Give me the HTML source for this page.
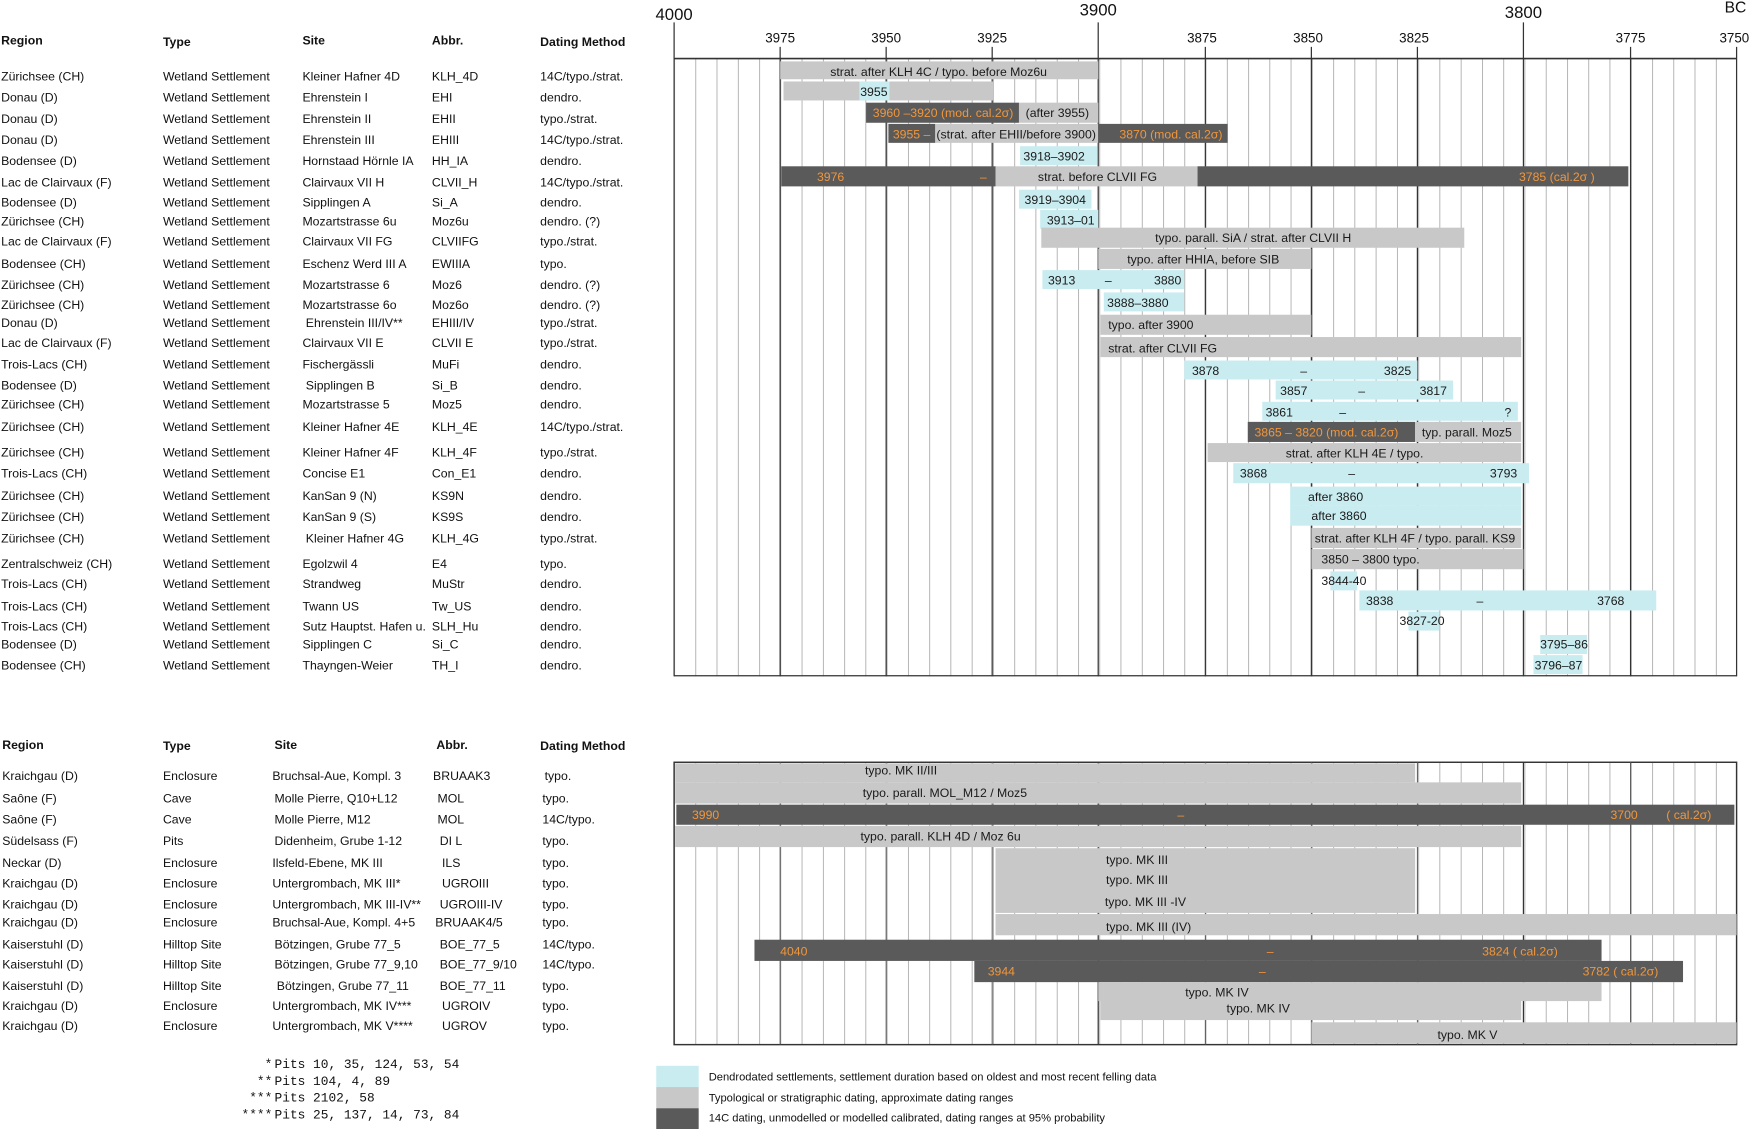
<!DOCTYPE html>
<html><head><meta charset="utf-8"><style>
html,body{margin:0;padding:0;background:#fff}
svg{display:block}
text{font-family:"Liberation Sans",sans-serif;font-size:11px;fill:#111}
.h{font-weight:bold}
.b{font-size:11px;fill:#1a1a1a}
.o{fill:#f0963c;font-size:11px}
.m{font-family:"Liberation Mono",monospace;font-size:11.5px}
</style></head><body>
<svg width="1750" height="1129" viewBox="0 0 1568 1011.6" xmlns="http://www.w3.org/2000/svg">
<defs>
<pattern id="g" x="604" y="0" width="19.05" height="10" patternUnits="userSpaceOnUse">
<line x1="0.3" y1="0" x2="0.3" y2="10" stroke="#9a9a9a" stroke-width="0.7"/>
</pattern>
</defs>
<!-- top chart grid -->
<rect x="604" y="52" width="952" height="554" fill="url(#g)"/>
<rect x="604" y="683" width="952" height="253" fill="url(#g)"/>
<g stroke="#333" stroke-width="1.1">
<line x1="699" y1="42" x2="699" y2="606"/><line x1="794" y1="42" x2="794" y2="606"/><line x1="889" y1="42" x2="889" y2="606"/>
<line x1="984" y1="20" x2="984" y2="606"/><line x1="1080" y1="42" x2="1080" y2="606"/><line x1="1175" y1="42" x2="1175" y2="606"/>
<line x1="1270" y1="42" x2="1270" y2="606"/><line x1="1365" y1="20" x2="1365" y2="606"/><line x1="1461" y1="42" x2="1461" y2="606"/>
<line x1="604" y1="20" x2="604" y2="606"/><line x1="1556" y1="42" x2="1556" y2="606"/>
<line x1="604" y1="52.5" x2="1556" y2="52.5" stroke-width="1.4"/>
<line x1="604" y1="605.5" x2="1556" y2="605.5"/>
<line x1="984" y1="683" x2="984" y2="936"/><line x1="1365" y1="683" x2="1365" y2="936"/>
<rect x="604" y="683" width="952" height="253" fill="none" stroke-width="1.3"/>
</g>
<g stroke="#555" stroke-width="0.9">
<line x1="699" y1="683" x2="699" y2="936"/><line x1="794" y1="683" x2="794" y2="936"/><line x1="889" y1="683" x2="889" y2="936"/>
<line x1="1080" y1="683" x2="1080" y2="936"/><line x1="1175" y1="683" x2="1175" y2="936"/><line x1="1270" y1="683" x2="1270" y2="936"/><line x1="1461" y1="683" x2="1461" y2="936"/>
</g>
<!-- axis labels -->
<text x="604" y="18" text-anchor="middle" style="font-size:15px">4000</text>
<text x="984" y="14" text-anchor="middle" style="font-size:15px">3900</text>
<text x="1365" y="16" text-anchor="middle" style="font-size:15px">3800</text>
<text x="1555" y="11" text-anchor="middle" style="font-size:14px">BC</text>
<g text-anchor="middle" style="font-size:12px">
<text x="699" y="38" style="font-size:12px">3975</text><text x="794" y="38" style="font-size:12px">3950</text><text x="889" y="38" style="font-size:12px">3925</text>
<text x="1077" y="38" style="font-size:12px">3875</text><text x="1172" y="38" style="font-size:12px">3850</text><text x="1267" y="38" style="font-size:12px">3825</text>
<text x="1461" y="38" style="font-size:12px">3775</text><text x="1554" y="38" style="font-size:12px">3750</text>
</g>
<!-- top bars -->
<g>
<rect x="699" y="55" width="285" height="16" fill="#c8c8c8"/><text x="841" y="68" text-anchor="middle" class="b">strat. after KLH 4C / typo. before Moz6u</text>
<rect x="702" y="73" width="188" height="17" fill="#c8c8c8"/><rect x="770" y="73" width="27" height="17" fill="#c9ecf0"/><text x="783" y="86" text-anchor="middle" class="b">3955</text>
<rect x="776" y="92" width="137" height="18" fill="#5a5a5a"/><text x="782" y="105" class="o">3960 –3920 (mod. cal.2σ)</text>
<rect x="913" y="92" width="71" height="18" fill="#c8c8c8"/><text x="919" y="105" class="b">(after 3955)</text>
<rect x="796" y="111" width="42" height="17" fill="#5a5a5a"/><text x="800" y="124" class="o">3955 –</text>
<rect x="838" y="111" width="146" height="17" fill="#c8c8c8"/><text x="839" y="124" class="b">(strat. after EHII/before 3900)</text>
<rect x="984" y="111" width="116" height="17" fill="#5a5a5a"/><text x="1003" y="124" class="o">3870 (mod. cal.2σ)</text>
<rect x="914" y="131" width="69" height="17" fill="#c9ecf0"/><text x="917" y="144" class="b">3918–3902</text>
<rect x="700" y="149" width="192" height="18" fill="#5a5a5a"/><text x="732" y="162" class="o">3976</text><text x="878" y="162" class="o">–</text>
<rect x="892" y="149" width="181" height="18" fill="#c8c8c8"/><text x="930" y="162" class="b">strat. before CLVII FG</text>
<rect x="1073" y="149" width="386" height="18" fill="#5a5a5a"/><text x="1361" y="162" class="o">3785 (cal.2σ )</text>
<rect x="913" y="170" width="65" height="17" fill="#c9ecf0"/><text x="918" y="183" class="b">3919–3904</text>
<rect x="932" y="188" width="52" height="17" fill="#c9ecf0"/><text x="938" y="201" class="b">3913–01</text>
<rect x="933" y="204" width="379" height="18" fill="#c8c8c8"/><text x="1035" y="217" class="b">typo. parall. SiA / strat. after CLVII H</text>
<rect x="984" y="223" width="191" height="18" fill="#c8c8c8"/><text x="1010" y="236" class="b">typo. after HHIA, before SIB</text>
<rect x="934" y="242" width="127" height="17" fill="#c9ecf0"/><text x="939" y="255" class="b">3913</text><text x="990" y="255" class="b">–</text><text x="1034" y="255" class="b">3880</text>
<rect x="989" y="262" width="72" height="17" fill="#c9ecf0"/><text x="992" y="275" class="b">3888–3880</text>
<rect x="986" y="282" width="189" height="18" fill="#c8c8c8"/><text x="993" y="295" class="b">typo. after 3900</text>
<rect x="986" y="302" width="377" height="18" fill="#c8c8c8"/><text x="993" y="316" class="b">strat. after CLVII FG</text>
<rect x="1061" y="323" width="209" height="17" fill="#c9ecf0"/><text x="1068" y="336" class="b">3878</text><text x="1165" y="336" class="b">–</text><text x="1240" y="336" class="b">3825</text>
<rect x="1143" y="341" width="159" height="17" fill="#c9ecf0"/><text x="1147" y="354" class="b">3857</text><text x="1217" y="354" class="b">–</text><text x="1272" y="354" class="b">3817</text>
<rect x="1131" y="360" width="229" height="17" fill="#c9ecf0"/><text x="1134" y="373" class="b">3861</text><text x="1200" y="373" class="b">–</text><text x="1348" y="373" class="b">?</text>
<rect x="1118" y="378" width="150" height="18" fill="#5a5a5a"/><text x="1124" y="391" class="o">3865 – 3820 (mod. cal.2σ)</text>
<rect x="1268" y="378" width="95" height="18" fill="#c8c8c8"/><text x="1274" y="391" class="b">typ. parall. Moz5</text>
<rect x="1082" y="397" width="281" height="17" fill="#c8c8c8"/><text x="1152" y="410" class="b">strat. after KLH 4E / typo.</text>
<rect x="1105" y="415" width="265" height="18" fill="#c9ecf0"/><text x="1111" y="428" class="b">3868</text><text x="1208" y="428" class="b">–</text><text x="1335" y="428" class="b">3793</text>
<rect x="1156" y="436" width="207" height="17" fill="#c9ecf0"/><text x="1172" y="449" class="b">after 3860</text>
<rect x="1156" y="453" width="207" height="18" fill="#c9ecf0"/><text x="1175" y="466" class="b">after 3860</text>
<rect x="1175" y="473" width="188" height="18" fill="#c8c8c8"/><text x="1178" y="486" class="b">strat. after KLH 4F / typo. parall. KS9</text>
<rect x="1175" y="492" width="190" height="18" fill="#c8c8c8"/><text x="1184" y="505" class="b">3850  – 3800 typo.</text>
<rect x="1192" y="512" width="24" height="17" fill="#c9ecf0"/><text x="1184" y="524" class="b">3844-40</text>
<rect x="1218" y="529" width="266" height="18" fill="#c9ecf0"/><text x="1224" y="542" class="b">3838</text><text x="1323" y="542" class="b">–</text><text x="1431" y="542" class="b">3768</text>
<rect x="1262" y="548" width="28" height="17" fill="#c9ecf0"/><text x="1254" y="560" class="b">3827-20</text>
<rect x="1380" y="569" width="42" height="17" fill="#c9ecf0"/><text x="1380" y="581" class="b">3795–86</text>
<rect x="1374" y="587" width="44" height="17" fill="#c9ecf0"/><text x="1375" y="600" class="b">3796–87</text>
</g>
<!-- bottom bars -->
<g>
<rect x="605" y="684" width="663" height="17" fill="#c8c8c8"/><text x="775" y="694" class="b">typo. MK II/III</text>
<rect x="605" y="701" width="758" height="19" fill="#c8c8c8"/><text x="773" y="714" class="b">typo. parall. MOL_M12 / Moz5</text>
<rect x="606" y="721" width="948" height="18" fill="#5a5a5a"/><text x="620" y="734" class="o">3990</text><text x="1055" y="734" class="o">–</text><text x="1443" y="734" class="o">3700</text><text x="1493" y="734" class="o">( cal.2σ)</text>
<rect x="605" y="740" width="758" height="19" fill="#c8c8c8"/><text x="771" y="753" class="b">typo. parall. KLH 4D / Moz 6u</text>
<rect x="892" y="760" width="376" height="58" fill="#c8c8c8"/>
<rect x="892" y="819" width="664" height="19" fill="#c8c8c8"/>
<text x="991" y="774" class="b">typo. MK III</text><text x="991" y="792" class="b">typo. MK III</text>
<text x="990" y="812" class="b">typo. MK III -IV</text><text x="991" y="834" class="b">typo. MK III (IV)</text>
<rect x="676" y="842" width="759" height="19" fill="#5a5a5a"/><text x="699" y="856" class="o">4040</text><text x="1135" y="856" class="o">–</text><text x="1328" y="856" class="o">3824 ( cal.2σ)</text>
<rect x="873" y="861" width="635" height="19" fill="#5a5a5a"/><text x="885" y="874" class="o">3944</text><text x="1128" y="874" class="o">–</text><text x="1418" y="874" class="o">3782  ( cal.2σ)</text>
<rect x="984" y="880" width="451" height="17" fill="#c8c8c8"/><text x="1062" y="893" class="b">typo. MK IV</text>
<rect x="986" y="895" width="377" height="19" fill="#c8c8c8"/><text x="1099" y="907" class="b">typo. MK IV</text>
<rect x="1175" y="916" width="381" height="19" fill="#c8c8c8"/><text x="1288" y="931" class="b">typo. MK V</text>
</g>
<!-- top table -->
<g>
<text x="1" y="40" class="h">Region</text><text x="146" y="41" class="h">Type</text><text x="271" y="40" class="h">Site</text><text x="387" y="40" class="h">Abbr.</text><text x="484" y="41" class="h">Dating Method</text>
</g>
<g id="tt">
<text x="1" y="72">Zürichsee (CH)</text><text x="146" y="72">Wetland Settlement</text><text x="271" y="72">Kleiner Hafner 4D</text><text x="387" y="72">KLH_4D</text><text x="484" y="72">14C/typo./strat.</text>
<text x="1" y="91">Donau (D)</text><text x="146" y="91">Wetland Settlement</text><text x="271" y="91">Ehrenstein I</text><text x="387" y="91">EHI</text><text x="484" y="91">dendro.</text>
<text x="1" y="110">Donau (D)</text><text x="146" y="110">Wetland Settlement</text><text x="271" y="110">Ehrenstein II</text><text x="387" y="110">EHII</text><text x="484" y="110">typo./strat.</text>
<text x="1" y="129">Donau (D)</text><text x="146" y="129">Wetland Settlement</text><text x="271" y="129">Ehrenstein III</text><text x="387" y="129">EHIII</text><text x="484" y="129">14C/typo./strat.</text>
<text x="1" y="148">Bodensee (D)</text><text x="146" y="148">Wetland Settlement</text><text x="271" y="148">Hornstaad Hörnle IA</text><text x="387" y="148">HH_IA</text><text x="484" y="148">dendro.</text>
<text x="1" y="167">Lac de Clairvaux (F)</text><text x="146" y="167">Wetland Settlement</text><text x="271" y="167">Clairvaux VII H</text><text x="387" y="167">CLVII_H</text><text x="484" y="167">14C/typo./strat.</text>
<text x="1" y="185">Bodensee (D)</text><text x="146" y="185">Wetland Settlement</text><text x="271" y="185">Sipplingen A</text><text x="387" y="185">Si_A</text><text x="484" y="185">dendro.</text>
<text x="1" y="202">Zürichsee (CH)</text><text x="146" y="202">Wetland Settlement</text><text x="271" y="202">Mozartstrasse 6u</text><text x="387" y="202">Moz6u</text><text x="484" y="202">dendro. (?)</text>
<text x="1" y="220">Lac de Clairvaux (F)</text><text x="146" y="220">Wetland Settlement</text><text x="271" y="220">Clairvaux VII FG</text><text x="387" y="220">CLVIIFG</text><text x="484" y="220">typo./strat.</text>
<text x="1" y="240">Bodensee (CH)</text><text x="146" y="240">Wetland Settlement</text><text x="271" y="240">Eschenz Werd III A</text><text x="387" y="240">EWIIIA</text><text x="484" y="240">typo.</text>
<text x="1" y="259">Zürichsee (CH)</text><text x="146" y="259">Wetland Settlement</text><text x="271" y="259">Mozartstrasse 6</text><text x="387" y="259">Moz6</text><text x="484" y="259">dendro. (?)</text>
<text x="1" y="277">Zürichsee (CH)</text><text x="146" y="277">Wetland Settlement</text><text x="271" y="277">Mozartstrasse 6o</text><text x="387" y="277">Moz6o</text><text x="484" y="277">dendro. (?)</text>
<text x="1" y="293">Donau (D)</text><text x="146" y="293">Wetland Settlement</text><text x="274" y="293">Ehrenstein III/IV**</text><text x="387" y="293">EHIII/IV</text><text x="484" y="293">typo./strat.</text>
<text x="1" y="311">Lac de Clairvaux (F)</text><text x="146" y="311">Wetland Settlement</text><text x="271" y="311">Clairvaux VII E</text><text x="387" y="311">CLVII E</text><text x="484" y="311">typo./strat.</text>
<text x="1" y="330">Trois-Lacs (CH)</text><text x="146" y="330">Wetland Settlement</text><text x="271" y="330">Fischergässli</text><text x="387" y="330">MuFi</text><text x="484" y="330">dendro.</text>
<text x="1" y="349">Bodensee (D)</text><text x="146" y="349">Wetland Settlement</text><text x="274" y="349">Sipplingen B</text><text x="387" y="349">Si_B</text><text x="484" y="349">dendro.</text>
<text x="1" y="366">Zürichsee (CH)</text><text x="146" y="366">Wetland Settlement</text><text x="271" y="366">Mozartstrasse 5</text><text x="387" y="366">Moz5</text><text x="484" y="366">dendro.</text>
<text x="1" y="386">Zürichsee (CH)</text><text x="146" y="386">Wetland Settlement</text><text x="271" y="386">Kleiner Hafner 4E</text><text x="387" y="386">KLH_4E</text><text x="484" y="386">14C/typo./strat.</text>
<text x="1" y="409">Zürichsee (CH)</text><text x="146" y="409">Wetland Settlement</text><text x="271" y="409">Kleiner Hafner 4F</text><text x="387" y="409">KLH_4F</text><text x="484" y="409">typo./strat.</text>
<text x="1" y="428">Trois-Lacs (CH)</text><text x="146" y="428">Wetland Settlement</text><text x="271" y="428">Concise E1</text><text x="387" y="428">Con_E1</text><text x="484" y="428">dendro.</text>
<text x="1" y="448">Zürichsee (CH)</text><text x="146" y="448">Wetland Settlement</text><text x="271" y="448">KanSan 9 (N)</text><text x="387" y="448">KS9N</text><text x="484" y="448">dendro.</text>
<text x="1" y="467">Zürichsee (CH)</text><text x="146" y="467">Wetland Settlement</text><text x="271" y="467">KanSan 9 (S)</text><text x="387" y="467">KS9S</text><text x="484" y="467">dendro.</text>
<text x="1" y="486">Zürichsee (CH)</text><text x="146" y="486">Wetland Settlement</text><text x="274" y="486">Kleiner Hafner 4G</text><text x="387" y="486">KLH_4G</text><text x="484" y="486">typo./strat.</text>
<text x="1" y="509">Zentralschweiz (CH)</text><text x="146" y="509">Wetland Settlement</text><text x="271" y="509">Egolzwil 4</text><text x="387" y="509">E4</text><text x="484" y="509">typo.</text>
<text x="1" y="527">Trois-Lacs (CH)</text><text x="146" y="527">Wetland Settlement</text><text x="271" y="527">Strandweg</text><text x="387" y="527">MuStr</text><text x="484" y="527">dendro.</text>
<text x="1" y="547">Trois-Lacs (CH)</text><text x="146" y="547">Wetland Settlement</text><text x="271" y="547">Twann US</text><text x="387" y="547">Tw_US</text><text x="484" y="547">dendro.</text>
<text x="1" y="565">Trois-Lacs (CH)</text><text x="146" y="565">Wetland Settlement</text><text x="271" y="565">Sutz Hauptst. Hafen u.</text><text x="387" y="565">SLH_Hu</text><text x="484" y="565">dendro.</text>
<text x="1" y="581">Bodensee (D)</text><text x="146" y="581">Wetland Settlement</text><text x="271" y="581">Sipplingen C</text><text x="387" y="581">Si_C</text><text x="484" y="581">dendro.</text>
<text x="1" y="600">Bodensee  (CH)</text><text x="146" y="600">Wetland Settlement</text><text x="271" y="600">Thayngen-Weier</text><text x="387" y="600">TH_I</text><text x="484" y="600">dendro.</text>
</g>
<!-- bottom table -->
<g>
<text x="2" y="671" class="h">Region</text><text x="146" y="672" class="h">Type</text><text x="246" y="671" class="h">Site</text><text x="391" y="671" class="h">Abbr.</text><text x="484" y="672" class="h">Dating Method</text>
<text x="2" y="699">Kraichgau (D)</text><text x="146" y="699">Enclosure</text><text x="244" y="699">Bruchsal-Aue, Kompl. 3</text><text x="388" y="699">BRUAAK3</text><text x="488" y="699">typo.</text>
<text x="2" y="719">Saône (F)</text><text x="146" y="719">Cave</text><text x="246" y="719">Molle Pierre, Q10+L12</text><text x="392" y="719">MOL</text><text x="486" y="719">typo.</text>
<text x="2" y="738">Saône (F)</text><text x="146" y="738">Cave</text><text x="246" y="738">Molle Pierre, M12</text><text x="392" y="738">MOL</text><text x="486" y="738">14C/typo.</text>
<text x="2" y="757">Südelsass (F)</text><text x="146" y="757">Pits</text><text x="246" y="757">Didenheim, Grube 1-12</text><text x="394" y="757">DI L</text><text x="486" y="757">typo.</text>
<text x="2" y="777">Neckar (D)</text><text x="146" y="777">Enclosure</text><text x="244" y="777">Ilsfeld-Ebene, MK III</text><text x="396" y="777">ILS</text><text x="486" y="777">typo.</text>
<text x="2" y="795">Kraichgau (D)</text><text x="146" y="795">Enclosure</text><text x="244" y="795">Untergrombach, MK III*</text><text x="396" y="795">UGROIII</text><text x="486" y="795">typo.</text>
<text x="2" y="814">Kraichgau (D)</text><text x="146" y="814">Enclosure</text><text x="244" y="814">Untergrombach, MK III-IV**</text><text x="394" y="814">UGROIII-IV</text><text x="486" y="814">typo.</text>
<text x="2" y="830">Kraichgau (D)</text><text x="146" y="830">Enclosure</text><text x="244" y="830">Bruchsal-Aue, Kompl.  4+5</text><text x="390" y="830">BRUAAK4/5</text><text x="486" y="830">typo.</text>
<text x="2" y="850">Kaiserstuhl (D)</text><text x="146" y="850">Hilltop Site</text><text x="246" y="850">Bötzingen, Grube 77_5</text><text x="394" y="850">BOE_77_5</text><text x="486" y="850">14C/typo.</text>
<text x="2" y="868">Kaiserstuhl (D)</text><text x="146" y="868">Hilltop Site</text><text x="246" y="868">Bötzingen, Grube 77_9,10</text><text x="394" y="868">BOE_77_9/10</text><text x="486" y="868">14C/typo.</text>
<text x="2" y="887">Kaiserstuhl (D)</text><text x="146" y="887">Hilltop Site</text><text x="248" y="887">Bötzingen, Grube 77_11</text><text x="394" y="887">BOE_77_11</text><text x="486" y="887">typo.</text>
<text x="2" y="905">Kraichgau (D)</text><text x="146" y="905">Enclosure</text><text x="244" y="905">Untergrombach, MK IV***</text><text x="396" y="905">UGROIV</text><text x="486" y="905">typo.</text>
<text x="2" y="923">Kraichgau (D)</text><text x="146" y="923">Enclosure</text><text x="244" y="923">Untergrombach, MK V****</text><text x="396" y="923">UGROV</text><text x="486" y="923">typo.</text>
</g>
<!-- footnotes -->
<g class="m">
<text x="244" y="957" text-anchor="end" class="m">*</text><text x="246" y="957" class="m">Pits 10, 35, 124, 53, 54</text>
<text x="244" y="972" text-anchor="end" class="m">**</text><text x="246" y="972" class="m">Pits 104, 4, 89</text>
<text x="244" y="987" text-anchor="end" class="m">***</text><text x="246" y="987" class="m">Pits 2102, 58</text>
<text x="244" y="1002" text-anchor="end" class="m">****</text><text x="246" y="1002" class="m">Pits 25, 137, 14, 73, 84</text>
</g>
<!-- legend -->
<rect x="588" y="955" width="38" height="19" fill="#c9ecf0"/>
<rect x="588" y="974" width="38" height="19" fill="#c8c8c8"/>
<rect x="588" y="993" width="38" height="19" fill="#5a5a5a"/>
<text x="635" y="968" style="font-size:10px">Dendrodated settlements, settlement duration based on oldest and most recent felling data</text>
<text x="635" y="987" style="font-size:10px">Typological or stratigraphic dating, approximate dating ranges</text>
<text x="635" y="1005" style="font-size:10px">14C dating, unmodelled or modelled calibrated, dating ranges at 95% probability</text>
</svg>
</body></html>
